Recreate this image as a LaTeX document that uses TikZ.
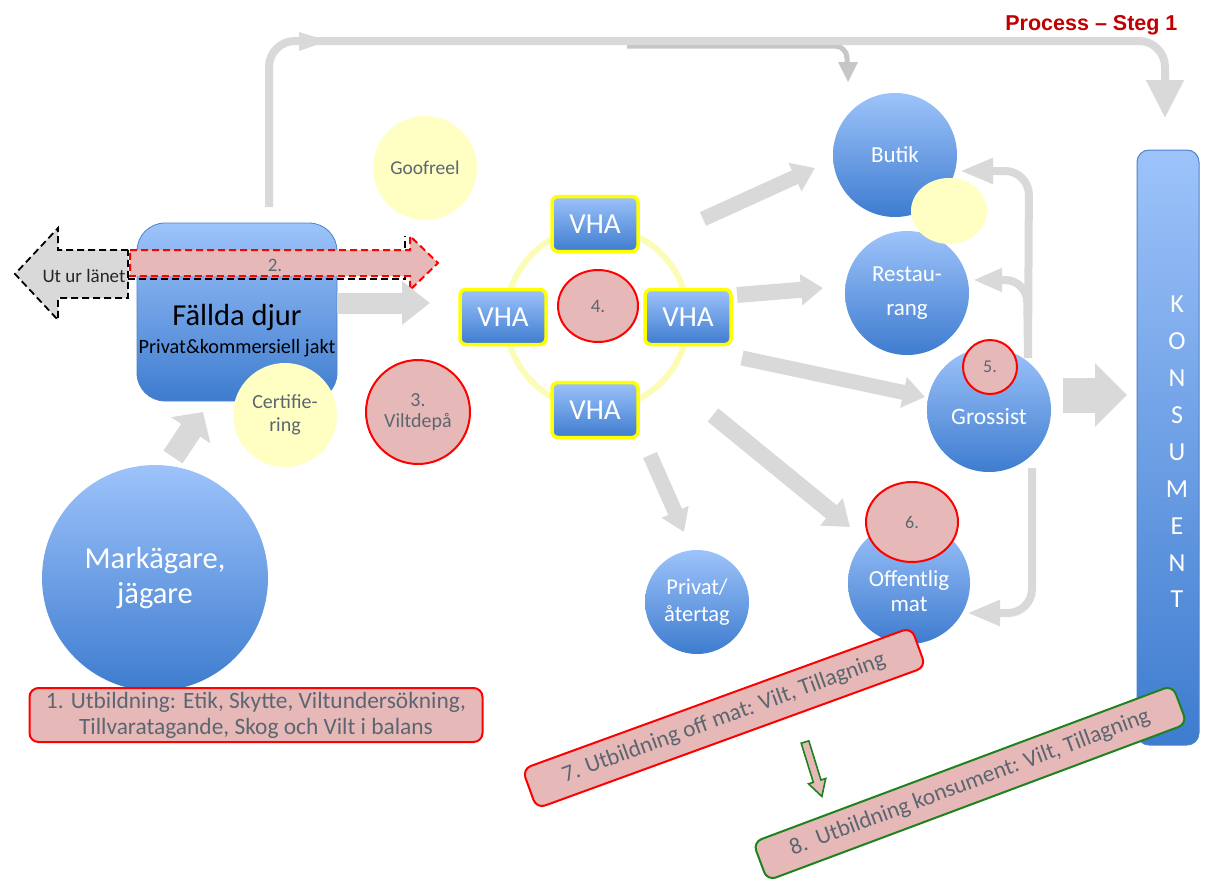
\documentclass[tikz,border=0pt]{standalone}
\usepackage{fontspec}
\setmainfont{Carlito}
\newfontfamily\titlefont{Liberation Sans}
\usetikzlibrary{arrows.meta,calc,shapes.geometric}
\definecolor{bluetop}{RGB}{157,195,250}
\definecolor{bluebot}{RGB}{62,124,207}
\definecolor{blueline}{RGB}{80,130,200}
\definecolor{pinkfill}{RGB}{230,185,184}
\definecolor{yelfill}{RGB}{255,255,196}
\definecolor{yelring}{RGB}{252,252,185}
\definecolor{agray}{RGB}{217,217,217}
\definecolor{agraydark}{RGB}{198,198,198}
\definecolor{txtgray}{RGB}{91,102,112}
\definecolor{titlered}{RGB}{192,0,0}
\definecolor{grn}{RGB}{30,130,30}
\definecolor{vyellow}{RGB}{255,255,0}
\tikzset{
  fs/.style 2 args={font=\fontsize{#1}{#2}\selectfont},
  bluecirc/.style={circle, top color=bluetop, bottom color=bluebot, text=white, align=center, inner sep=0pt},
  yelcirc/.style={circle, fill=yelfill, text=txtgray, align=center, inner sep=0pt},
  redcirc/.style={circle, fill=pinkfill, draw=red, line width=2pt, text=txtgray, align=center, inner sep=0pt},
  vhabox/.style={rounded corners=6pt, top color=bluetop, bottom color=bluebot, draw=vyellow, line width=3.5pt, minimum width=86pt, minimum height=55pt, text=white, fs={29}{34}},
  garrow/.style={draw=agray, line width=#1},
  gtip/.style 2 args={arrows={-{Triangle[length=#1,width=#2]}}},
  edubox/.style={rounded corners=9pt, fill=pinkfill, line width=2pt, text=txtgray, align=center, inner sep=0pt},
}
\begin{document}
\begin{tikzpicture}[x=1pt,y=-1pt]
\useasboundingbox (0,0) rectangle (1209,881);

% title
\node[anchor=base east, text=titlered, font=\titlefont\bfseries\fontsize{21.5}{24}\selectfont] (title) at (1181,30) {Process – Steg 1};

% KONSUMENT column
\node[rounded corners=12pt, top color=bluetop, bottom color=bluebot, draw=blueline, line width=1pt, minimum width=62pt, minimum height=595pt, inner sep=0pt] (kons) at (1168,447.5) {};
\node[text=white, align=center, fs={26}{36.9}] (konsT) at (1177,452) {K\\O\\N\\S\\U\\M\\E\\N\\T};

% Faellda djur box
\node[rounded corners=28pt, top color=bluetop, bottom color=bluebot, draw=blueline, line width=0.8pt, minimum width=200pt, minimum height=178pt, inner sep=0pt] (fallda) at (237,312) {};
\node[fs={30.5}{36}] (falldaT) at (237,318) {Fällda djur};
\node[fs={20.3}{24}] (falldaS) at (237,348) {Privat\&kommersiell jakt};

% top connector
\coordinate (topstart) at ([shift={(32,-105)}]fallda.center);
\coordinate (topend) at ([shift={(-3,-329.5)}]kons.center);
\draw[draw=agraydark, line width=5pt, rounded corners=12pt] (627,46) -- (847,46) -- (847,66);
\draw[garrow=8pt, rounded corners=26pt, gtip={38pt}{36pt}] (topstart) -- (269,41) -- (1165,41) -- (topend);

% VHA group
\node[circle, draw=yelring, line width=6pt, minimum size=182pt, inner sep=0pt] (ring) at (597,318) {};
\node[vhabox] (vhaT) at (595,224) {VHA};
\node[vhabox] (vhaL) at (503,317) {VHA};
\node[vhabox] (vhaR) at (688,317) {VHA};
\node[vhabox] (vhaB) at (595,410) {VHA};
\node[ellipse, fill=pinkfill, draw=red, line width=2pt, minimum width=80pt, minimum height=72pt, text=txtgray, fs={19}{22}, inner sep=0pt] (c4) at (598,306) {4.};

% Ut ur laenet and 2.
\filldraw[fill=agray, draw=black, dash pattern=on 7pt off 4pt, line width=1.8pt] (128,250) -- (58,250) -- (58,228) -- (15,274) -- (58,320) -- (58,298) -- (128,298) -- cycle;
\node[fs={19}{22}, text=black!85] (utur) at (84,276) {Ut ur länet};
\draw[black, dash pattern=on 7pt off 4pt, line width=1.8pt] (128,279) -- (405,279) -- (405,236);
\filldraw[fill=pinkfill, draw=red, dash pattern=on 7pt off 4pt, line width=2pt] (130,250) -- (410,250) -- (410,236) -- (438,263) -- (410,290) -- (410,276) -- (130,276) -- cycle;
\node[fs={19}{22}, text=txtgray] (two) at (275,265) {2.};

% gray arrow fallda -> VHA
\draw[garrow=21pt, gtip={28pt}{42pt}] ([shift={(100,-9)}]fallda.center) -- ([shift={(-73,-14)}]vhaL.center);

% left circles
\node[yelcirc, minimum size=104pt, fs={19.5}{23}] (goof) at (425,168) {Goofreel};
\node[yelcirc, minimum size=104pt, fs={20}{23}] (cert) at (285,415) {Certifie-\\ring};
\node[redcirc, minimum size=104pt, fs={20}{21}] (vilt) at (418,412) {3.\\Viltdepå};
\node[bluecirc, minimum size=226pt, fs={30.5}{35}] (mark) at (155,578) {Markägare,\\jägare};
\draw[garrow=23pt, gtip={22pt}{46pt}] ([shift={(18,-121)}]mark.center) -- ([shift={(-34,100)}]fallda.center);

% right circles
\node[bluecirc, minimum size=124pt, fs={23}{26}] (butik) at (895,155) {Butik};
\node[bluecirc, minimum size=124pt, fs={23}{34}] (rest) at (907,293) {Restau-\\rang};
\node[ellipse, fill=yelfill, minimum width=76pt, minimum height=66pt, inner sep=0pt] (yel) at (949,211) {};
\node[bluecirc, minimum size=124pt, fs={23.5}{26}] (gross) at (989,410) {\\[4pt]Grossist};
\node[redcirc, minimum size=54pt, fs={18}{20}] (c5) at (990,367) {5.};
\node[bluecirc, minimum size=122pt, fs={23}{25}] (off) at (909,583) {\\[8pt]Offentlig\\mat};
\node[ellipse, fill=pinkfill, draw=red, line width=2pt, minimum width=92pt, minimum height=80pt, text=txtgray, fs={18}{20}, inner sep=0pt] (c6) at (912,522) {6.};
\node[bluecirc, minimum size=104pt, fs={22.5}{27}] (priv) at (697,602) {Privat/\\återtag};

% small arrow branch head
\fill[agraydark] (838,62) -- (858,62) -- ([shift={(-47,-73)}]butik.center) -- cycle;
% small arrowhead on top line
\fill[agray] (299,32) -- (328,41) -- (299,51) -- cycle;

% VHA arrows
\draw[garrow=15pt, gtip={22pt}{30pt}] ([shift={(108,-5)}]vhaT.center) -- ([shift={(-80,13)}]butik.center);
\draw[garrow=16pt, gtip={22pt}{30pt}] ([shift={(49,-22)}]vhaR.center) -- ([shift={(-84,-5)}]rest.center);
\draw[garrow=15pt, gtip={22pt}{30pt}] ([shift={(54,41)}]vhaR.center) -- ([shift={(-64,-13)}]gross.center);
\draw[garrow=17pt, gtip={24pt}{34pt}] ([shift={(118,5)}]vhaB.center) -- ([shift={(-59,-56)}]off.center);
\draw[garrow=15pt, gtip={22pt}{28pt}] ([shift={(55,45)}]vhaB.center) -- ([shift={(-13,-70)}]priv.center);

% return arrows from grossist
\draw[garrow=8pt, rounded corners=24pt, gtip={33pt}{24pt}] ([shift={(39,-52)}]gross.center) -- (1029,171) -- ([shift={(65,16)}]butik.center);
\draw[garrow=8pt, rounded corners=22pt, gtip={29pt}{22pt}] ([shift={(39,-52)}]gross.center) -- (1027,280) -- ([shift={(66,-13)}]rest.center);
\draw[garrow=8pt, rounded corners=24pt, gtip={33pt}{24pt}] ([shift={(43,58)}]gross.center) -- (1032,613) -- ([shift={(58,30)}]off.center);

% grossist -> konsument
\draw[garrow=35pt, gtip={32pt}{62pt}] ([shift={(74,-15)}]gross.center) -- ([shift={(-41,-52.5)}]kons.center);

% education boxes
\node[edubox, draw=red, minimum width=453pt, minimum height=54pt, fs={23.4}{26}] (edu1) at (256,715) {1. Utbildning: Etik, Skytte, Viltundersökning,\\Tillvaratagande, Skog och Vilt i balans};
\node[edubox, draw=red, minimum width=414pt, minimum height=42pt, rotate=20, fs={23.2}{26}] (edu7) at (724,718) {7. Utbildning off mat: Vilt, Tillagning};
\node[edubox, draw=grn, minimum width=448pt, minimum height=41pt, rotate=20.5, fs={23.2}{26}] (edu8) at (970,783) {8.\ \ Utbildning konsument: Vilt, Tillagning};

% small arrow between 7 and 8
\begin{scope}[shift={(805,742)}, rotate=-72.8]
\filldraw[fill=pinkfill, draw=grn, line width=1.6pt] (0,-4) -- (41,-4) -- (41,-9) -- (57,0) -- (41,9) -- (41,4) -- (0,4) -- cycle;
\end{scope}
\end{tikzpicture}
\end{document}
